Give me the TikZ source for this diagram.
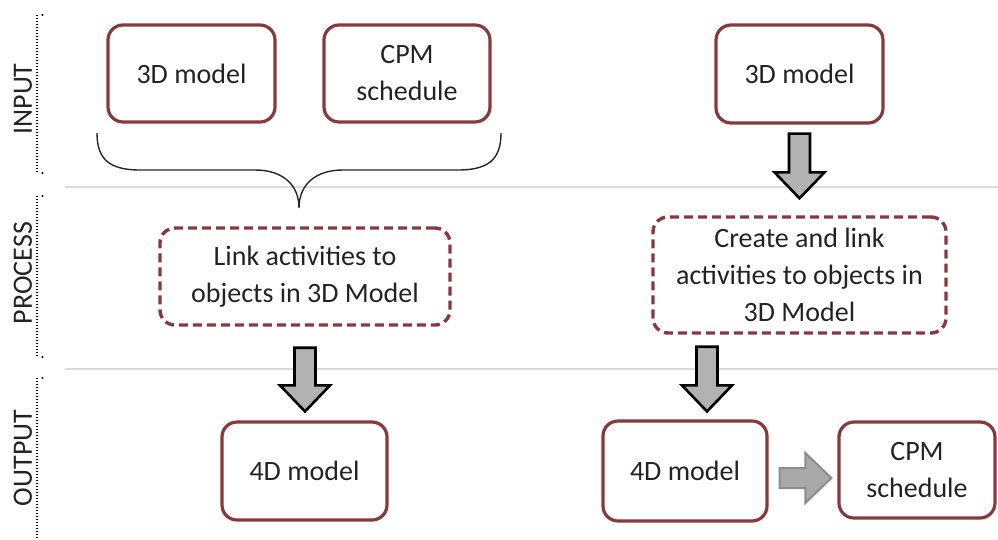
\documentclass[tikz,border=0pt]{standalone}
\usepackage{fontspec}
\setmainfont{Carlito}
\usetikzlibrary{calc}
\definecolor{maroon}{RGB}{135,58,62}
\definecolor{txt}{RGB}{35,35,35}
\definecolor{sepgray}{RGB}{218,218,218}
\definecolor{arrfill}{RGB}{178,178,178}
\definecolor{harrfill}{RGB}{168,168,168}
\definecolor{harrline}{RGB}{140,140,140}
\tikzset{
  box/.style={draw=maroon, line width=3.2pt, rounded corners=15pt, fill=white,
    align=center, text=txt, inner sep=0pt},
  dbox/.style={box, dash pattern=on 9pt off 5pt, line width=3.4pt},
  lbl/.style={rotate=90, text=txt, inner sep=0pt},
  sepline/.style={draw=sepgray, line width=1.5pt},
  dotline/.style={draw=black, line width=2.4pt, dash pattern=on 1.3pt off 1.7pt},
  bracecurve/.style={draw=black!85, line width=1.4pt},
  downblk/.style={draw=black, line width=2.6pt, fill=arrfill, line join=miter,
    to path={let \p1=(\tikztostart), \p2=(\tikztotarget) in
      (\x1-10.5pt,\y1) -- (\x1+10.5pt,\y1) -- (\x1+10.5pt,\y2+26pt) -- (\x1+25pt,\y2+26pt)
      -- (\x1,\y2) -- (\x1-25pt,\y2+26pt) -- (\x1-10.5pt,\y2+26pt) -- cycle}},
  rightblk/.style={draw=harrline, line width=2pt, fill=harrfill, line join=miter,
    to path={let \p1=(\tikztostart), \p2=(\tikztotarget) in
      (\x1,\y1+10pt) -- (\x2-26pt,\y1+10pt) -- (\x2-26pt,\y1+25pt) -- (\x2,\y1)
      -- (\x2-26pt,\y1-25pt) -- (\x2-26pt,\y1-10pt) -- (\x1,\y1-10pt) -- cycle}}
}
\begin{document}
\begin{tikzpicture}[x=1pt,y=-1pt]
\useasboundingbox (0,0) rectangle (998,539);
\fontsize{28}{37}\selectfont
% separators
\draw[sepline] (65,187) -- (998,187);
\draw[sepline] (65,369) -- (998,369);
% left labels with dotted brackets
\node[lbl] (inlbl) at (23,99) {INPUT};
\node[lbl] (prlbl) at (23,273) {PROCESS};
\node[lbl] (outlbl) at (23,458) {OUTPUT};
\draw[dotline] (37,15) -- (37,173);
\draw[dotline] (37,196) -- (37,357);
\draw[dotline] (37,378) -- (37,539);
\fill (42.5,15) circle (1.2pt) (42.5,173) circle (1.2pt)
      (42.5,196) circle (1.2pt) (42.5,357) circle (1.2pt)
      (42.5,378) circle (1.2pt);
% input boxes
\node[box, minimum width=167pt, minimum height=97pt] (l3d) at (191.5,73.5) {3D model};
\node[box, minimum width=166pt, minimum height=97pt] (lcpm) at (407,73.5) {CPM\\schedule};
\node[box, minimum width=167pt, minimum height=98pt] (r3d) at (799.5,74) {3D model};
% process boxes
\node[dbox, minimum width=290pt, minimum height=97pt] (lproc) at (305,276.5) {Link activities to\\objects in 3D Model};
\node[dbox, minimum width=293pt, minimum height=116pt] (rproc) at (799.5,275) {Create and link\\activities to objects in\\3D Model};
% output boxes
\node[box, minimum width=165pt, minimum height=98pt] (l4d) at (304.5,471) {4D model};
\node[box, minimum width=164pt, minimum height=100pt] (r4d) at (685,471) {4D model};
\node[box, minimum width=156pt, minimum height=96pt] (rcpm) at (917,470) {CPM\\schedule};
% brace
\draw[bracecurve] (97,133) .. controls (97,158) and (108,170) .. (140,170)
  -- (255,170) .. controls (283,170) and (299,185) .. (299,208)
  .. controls (299,185) and (315,170) .. (343,170)
  -- (458,170) .. controls (490,170) and (501,158) .. (501,133);
% block arrows
\path[downblk] ([yshift=-9pt]r3d.south) to ([yshift=17pt]rproc.north);
\path[downblk] ([yshift=-21pt]lproc.south) to ([yshift=9pt]l4d.north);
\path[downblk] ([shift={(22pt,-12pt)}]r4d.north |- rproc.south) to ([shift={(22pt,8pt)}]r4d.north);
\path[rightblk] ([shift={(11pt,-7pt)}]r4d.east) to ([shift={(-6pt,-8pt)}]rcpm.west);
\end{tikzpicture}
\end{document}
